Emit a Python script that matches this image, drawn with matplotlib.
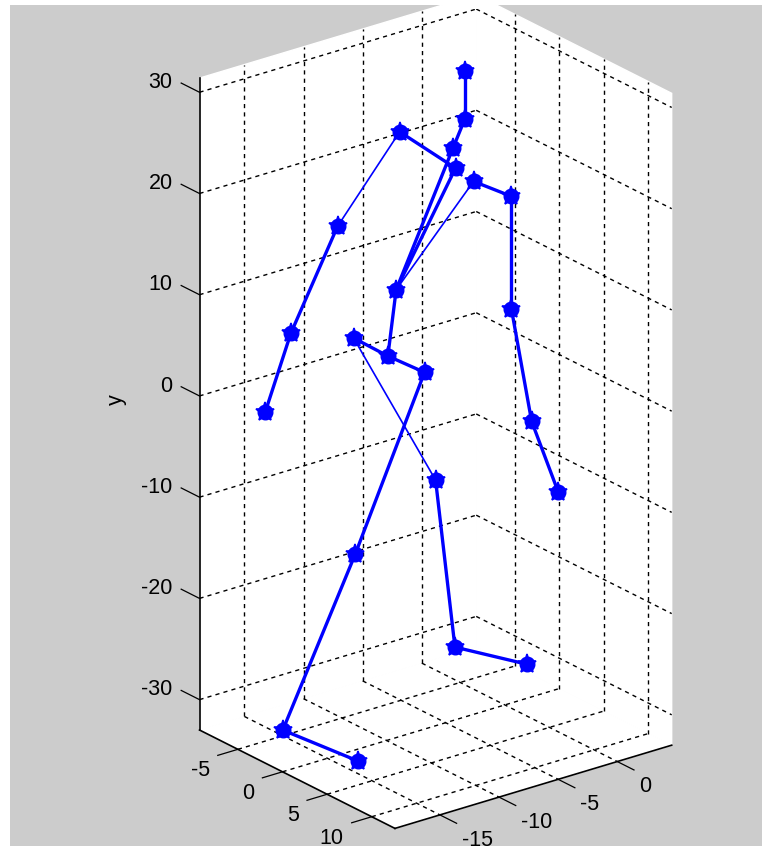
import numpy as np
import matplotlib.pyplot as plt
from matplotlib.patches import Rectangle
from mpl_toolkits.mplot3d import proj3d

# joint coordinates (x, y, z)
joint_x = [-0.9, -0.9, -1.9, -1.3, -6.4, -10.9, -14.1, -15.5, 0.6, 3.8, 3.8, 4.0, 4.0,
           -6.7, -7.4, -10.3, -4.3, -9.4, -14.4, -14.2, -1.1, 2.8, 4.6]
joint_y = [28.5, 23.7, 21.2, 18.8, 24.4, 16.2, 6.3, -1.4, 16.6, 14.0, 2.9, -7.4, -13.1,
           8.9, 2.6, 5.4, -0.1, -16.7, -33.0, -32.5, -13.2, -32.4, -32.2]
joint_z = [-3.3, -3.3, -3.3, -3.8, -3.3, -4.3, -5.3, -6.3, -4.3, -4.3, -4.3, -2.3, 0.7,
           -3.3, -3.3, -3.3, -3.3, -4.3, -5.8, 2.4, -6.3, -9.3, -3.6]

bones_thick = [(0, 1), (1, 2), (4, 3), (13, 2), (13, 3), (5, 6), (6, 7), (8, 9), (9, 10),
               (10, 11), (11, 12), (13, 14), (14, 15), (14, 16), (16, 17), (17, 18),
               (18, 19), (20, 21), (21, 22)]
bones_thin = [(4, 5), (13, 8), (15, 20)]

x_lim = (-18.8, 4.6)
y_lim = (-33.0, 31.4)
z_lim = (-9.3, 12.6)
x_ticks = [-15, -10, -5, 0]
y_ticks = [-30, -20, -10, 0, 10, 20, 30]
z_ticks = [-5, 0, 5, 10]

plt.rcParams['font.family'] = ['Liberation Sans', 'DejaVu Sans']
plt.rcParams['font.size'] = 15.5

W, H = 762, 846
fig = plt.figure(figsize=(W / 100, H / 100), dpi=100, facecolor='white')
fig.patches.append(Rectangle((10 / W, 0), 1, 1 - 5 / H, transform=fig.transFigure,
                             facecolor='#cccccc', edgecolor='none', zorder=-10))

ax = fig.add_axes([0, 0, 1, 1], projection='3d')
ax.set_proj_type('ortho')
ax.view_init(elev=22.9, azim=-37.7, vertical_axis='y')
ax.set_box_aspect((349.8, 707.8, 319.7))
ax.patch.set_facecolor('none')
ax.computed_zorder = False

# dashed grid on the three back walls (MATLAB style)
grid_kw = dict(color='k', lw=1.0, ls=(0, (3, 3)), zorder=1)
for x in x_ticks:
    ax.plot([x, x], y_lim, [z_lim[0]] * 2, **grid_kw)
    ax.plot([x, x], [y_lim[0]] * 2, z_lim, **grid_kw)
for y in y_ticks:
    ax.plot(x_lim, [y, y], [z_lim[0]] * 2, **grid_kw)
    ax.plot([x_lim[1]] * 2, [y, y], z_lim, **grid_kw)
for z in z_ticks:
    ax.plot([x_lim[1]] * 2, y_lim, [z, z], **grid_kw)
    ax.plot(x_lim, [y_lim[0]] * 2, [z, z], **grid_kw)

# tick marks
tick_kw = dict(color='k', lw=0.9, zorder=1)
for y in y_ticks:
    ax.plot([x_lim[0]] * 2, [y, y], [z_lim[0], z_lim[0] - 2.05], **tick_kw)
for z in z_ticks:
    ax.plot([x_lim[0], x_lim[0] - 1.7], [y_lim[0]] * 2, [z, z], **tick_kw)
for x in x_ticks:
    ax.plot([x, x], [y_lim[0]] * 2, [z_lim[1], z_lim[1] + 1.87], **tick_kw)

# skeleton
for i, j in bones_thick:
    ax.plot([joint_x[i], joint_x[j]], [joint_y[i], joint_y[j]], [joint_z[i], joint_z[j]],
            color='b', lw=2.4, zorder=3)
for i, j in bones_thin:
    ax.plot([joint_x[i], joint_x[j]], [joint_y[i], joint_y[j]], [joint_z[i], joint_z[j]],
            color='b', lw=1.2, zorder=3)
ax.plot(joint_x, joint_y, joint_z, ls='none', marker='o', ms=10.5, color='b', zorder=4)
ax.plot(joint_x, joint_y, joint_z, ls='none', marker='*', ms=14, mew=1.2, color='b', zorder=4)

ax.set_xlim(x_lim)
ax.set_ylim(y_lim)
ax.set_zlim(z_lim)
ax.set_xticks([])
ax.set_yticks([])
ax.set_zticks([])
ax.grid(False)
ax.yaxis.set_ticks_position('lower')

for axis in (ax.xaxis, ax.yaxis, ax.zaxis):
    axis.set_pane_color((1, 1, 1, 1))
    axis.pane.set_edgecolor('white')
    axis.line.set_linewidth(1.2)
    axis.line.set_color('k')

fig.text(116 / W, 1 - 400 / H, 'y', rotation=90, ha='center', va='center', fontsize=15.5)

fig.canvas.draw()
M = ax.get_proj()


def proj2d(x, y, z):
    xs, ys, _ = proj3d.proj_transform(np.array([x]), np.array([y]), np.array([z]), M)
    return xs[0], ys[0]


def label(x, y, z, s, **kw):
    px, py = proj2d(x, y, z)
    ax.text2D(px, py, s, transform=ax.transData, **kw)


# tick labels as plain 2D text at the projected spots
for y in y_ticks:
    label(x_lim[0], y - 0.35, z_lim[0] - 3.0, str(y), ha='right', va='center')
for z in z_ticks:
    label(x_lim[0] - 2.37, y_lim[0] - 1.3, z, str(z), ha='right', va='center')
for x in x_ticks:
    label(x, y_lim[0] - 1.4, z_lim[1] + 2.46, str(x), ha='left', va='center')

# place the box so its corners land where the reference has them
xl, yl, zl = ax.get_xlim3d(), ax.get_ylim3d(), ax.get_zlim3d()
p1 = ax.transData.transform(proj2d(xl[0], yl[0], zl[0]))
p2 = ax.transData.transform(proj2d(xl[1], yl[1], zl[1]))
t1 = np.array([199.5, H - 730.0])
t2 = np.array([671.7, H - 93.3])
s = np.mean((t2 - t1) / (p2 - p1))
bb = ax.get_position()
w = bb.width * W
c = np.array([(bb.x0 + bb.width / 2) * W, (bb.y0 + bb.height / 2) * H])
c_new = t1 - s * (p1 - c)
w_new = s * w
ax.set_position([(c_new[0] - w_new / 2) / W, (c_new[1] - w_new / 2) / H, w_new / W, w_new / H])

fig.savefig('out.png', dpi=100, facecolor=fig.get_facecolor())
